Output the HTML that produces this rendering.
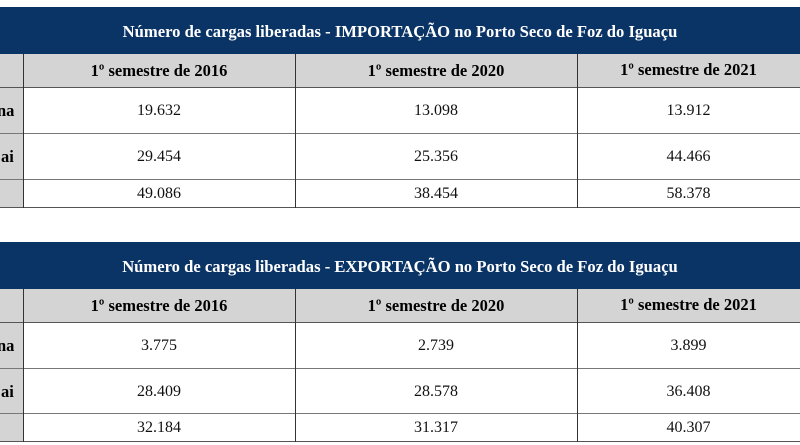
<!DOCTYPE html>
<html><head><meta charset="utf-8"><style>
body{margin:0;width:800px;height:445px;background:#fff;position:relative;overflow:hidden;font-family:"Liberation Serif",serif;}
.a{position:absolute;}
.dark{background:#0b3466;color:#fff;font-weight:bold;font-size:16.6px;text-align:center;left:0;width:800px;font-family:"Liberation Serif",serif;}
.gray{background:#d4d4d4;}
.h{position:absolute;font-weight:bold;font-size:16.5px;text-align:center;font-family:"Liberation Serif",serif;}
.d{position:absolute;font-size:16px;text-align:center;color:#111;font-family:"Liberation Serif",serif;}
.hl{position:absolute;left:0;width:800px;height:1px;background:#555;}
.vl{position:absolute;width:1px;background:#333;}
</style></head><body>

<!-- Table 1 -->
<div class="a dark" style="top:7px;height:47px;line-height:50px;">Número de cargas liberadas - IMPORTAÇÃO no Porto Seco de Foz do Iguaçu</div>
<div class="a gray" style="top:54px;left:0;width:800px;height:33px;"></div>
<div class="a gray" style="top:87px;left:0;width:23px;height:120px;"></div>
<div class="hl" style="top:87px;"></div>
<div class="hl" style="top:133px;background:#777"></div>
<div class="hl" style="top:179px;background:#777"></div>
<div class="hl" style="top:207px;"></div>
<div class="vl" style="left:23px;top:54px;height:154px;"></div>
<div class="vl" style="left:295px;top:54px;height:154px;"></div>
<div class="vl" style="left:577px;top:54px;height:154px;"></div>
<div class="h" style="left:23px;width:272px;top:61px;">1º semestre de 2016</div>
<div class="h" style="left:295px;width:282px;top:61px;">1º semestre de 2020</div>
<div class="h" style="left:577px;width:223px;top:60px;">1º semestre de 2021</div>
<div class="h" style="left:-3px;top:101px;">na</div>
<div class="h" style="left:1px;top:147px;">ai</div>
<div class="d" style="left:23px;width:272px;top:102px;">19.632</div>
<div class="d" style="left:295px;width:282px;top:102px;">13.098</div>
<div class="d" style="left:577px;width:223px;top:102px;">13.912</div>
<div class="d" style="left:23px;width:272px;top:148px;">29.454</div>
<div class="d" style="left:295px;width:282px;top:148px;">25.356</div>
<div class="d" style="left:577px;width:223px;top:148px;">44.466</div>
<div class="d" style="left:23px;width:272px;top:185px;">49.086</div>
<div class="d" style="left:295px;width:282px;top:185px;">38.454</div>
<div class="d" style="left:577px;width:223px;top:185px;">58.378</div>

<!-- Table 2 -->
<div class="a dark" style="top:242px;height:47px;line-height:50px;">Número de cargas liberadas - EXPORTAÇÃO no Porto Seco de Foz do Iguaçu</div>
<div class="a gray" style="top:289px;left:0;width:800px;height:33px;"></div>
<div class="a gray" style="top:322px;left:0;width:23px;height:120px;"></div>
<div class="hl" style="top:322px;"></div>
<div class="hl" style="top:368px;background:#777"></div>
<div class="hl" style="top:413px;background:#777"></div>
<div class="hl" style="top:441px;"></div>
<div class="vl" style="left:23px;top:289px;height:153px;"></div>
<div class="vl" style="left:295px;top:289px;height:153px;"></div>
<div class="vl" style="left:577px;top:289px;height:153px;"></div>
<div class="h" style="left:23px;width:272px;top:296px;">1º semestre de 2016</div>
<div class="h" style="left:295px;width:282px;top:296px;">1º semestre de 2020</div>
<div class="h" style="left:577px;width:223px;top:295px;">1º semestre de 2021</div>
<div class="h" style="left:-3px;top:336px;">na</div>
<div class="h" style="left:1px;top:382px;">ai</div>
<div class="d" style="left:23px;width:272px;top:337px;">3.775</div>
<div class="d" style="left:295px;width:282px;top:337px;">2.739</div>
<div class="d" style="left:577px;width:223px;top:337px;">3.899</div>
<div class="d" style="left:23px;width:272px;top:383px;">28.409</div>
<div class="d" style="left:295px;width:282px;top:383px;">28.578</div>
<div class="d" style="left:577px;width:223px;top:383px;">36.408</div>
<div class="d" style="left:23px;width:272px;top:419px;">32.184</div>
<div class="d" style="left:295px;width:282px;top:419px;">31.317</div>
<div class="d" style="left:577px;width:223px;top:419px;">40.307</div>
</body></html>
